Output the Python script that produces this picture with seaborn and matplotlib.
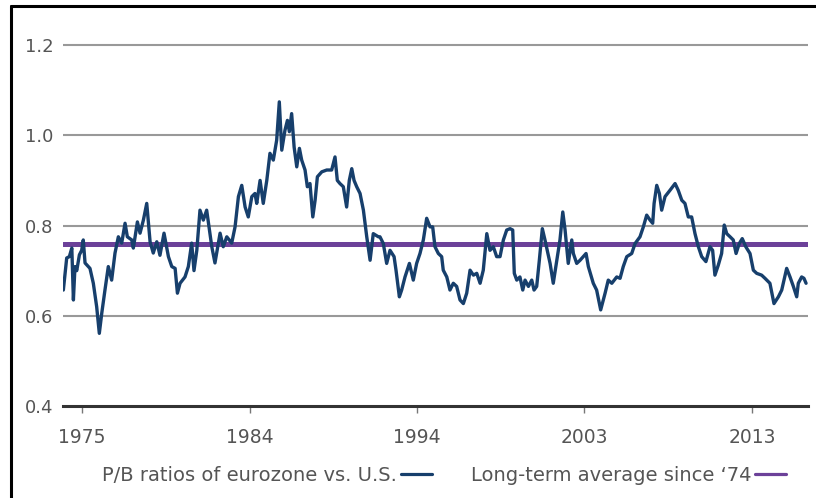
import matplotlib
matplotlib.use("Agg")
import matplotlib.pyplot as plt
from matplotlib.lines import Line2D
import seaborn as sns
import pandas as pd

# Eurozone vs. U.S. price-to-book ratio (decimal year, ratio)
years = [
    1973.94, 1974.13, 1974.28, 1974.42, 1974.51, 1974.60, 1974.70, 1974.85, 1974.98, 1975.07,
    1975.17, 1975.45, 1975.64, 1975.83, 1975.98, 1976.12, 1976.30, 1976.49, 1976.68, 1976.87,
    1977.06, 1977.25, 1977.44, 1977.57, 1977.82, 1977.91, 1978.14, 1978.29, 1978.48, 1978.67,
    1978.86, 1979.04, 1979.24, 1979.42, 1979.65, 1979.90, 1980.09, 1980.28, 1980.41, 1980.56,
    1980.84, 1981.03, 1981.22, 1981.35, 1981.51, 1981.69, 1981.88, 1982.07, 1982.36, 1982.54,
    1982.83, 1983.01, 1983.21, 1983.49, 1983.68, 1983.87, 1984.06, 1984.25, 1984.43, 1984.63,
    1984.81, 1984.91, 1985.10, 1985.28, 1985.48, 1985.66, 1985.85, 1986.04, 1986.19, 1986.33,
    1986.51, 1986.65, 1986.76, 1986.89, 1987.03, 1987.18, 1987.33, 1987.46, 1987.65, 1987.78,
    1987.93, 1988.09, 1988.22, 1988.35, 1988.60, 1988.88, 1989.16, 1989.35, 1989.48, 1989.63,
    1989.82, 1990.01, 1990.16, 1990.30, 1990.43, 1990.58, 1990.77, 1990.96, 1991.15, 1991.34,
    1991.52, 1991.81, 1991.90, 1992.09, 1992.28, 1992.47, 1992.70, 1992.81, 1993.00, 1993.13,
    1993.32, 1993.57, 1993.79, 1993.98, 1994.17, 1994.36, 1994.55, 1994.74, 1994.89, 1995.02,
    1995.21, 1995.40, 1995.49, 1995.69, 1995.87, 1996.06, 1996.25, 1996.44, 1996.63, 1996.82,
    1997.01, 1997.20, 1997.39, 1997.58, 1997.76, 1997.96, 1998.14, 1998.33, 1998.52, 1998.71,
    1998.90, 1999.09, 1999.28, 1999.43, 1999.52, 1999.66, 1999.84, 2000.00, 2000.13, 2000.32,
    2000.51, 2000.64, 2000.79, 2000.94, 2001.11, 2001.26, 2001.55, 2001.73, 2001.93, 2002.11,
    2002.27, 2002.40, 2002.58, 2002.78, 2002.87, 2003.06, 2003.25, 2003.59, 2003.72, 2004.00,
    2004.19, 2004.42, 2004.67, 2004.85, 2005.05, 2005.33, 2005.52, 2005.70, 2005.90, 2006.18,
    2006.37, 2006.65, 2006.84, 2007.03, 2007.22, 2007.37, 2007.45, 2007.60, 2007.75, 2007.88,
    2008.07, 2008.35, 2008.64, 2008.82, 2009.02, 2009.20, 2009.39, 2009.58, 2009.77, 2009.96,
    2010.15, 2010.39, 2010.62, 2010.77, 2010.90, 2011.09, 2011.28, 2011.43, 2011.57, 2011.76,
    2011.94, 2012.10, 2012.28, 2012.45, 2012.65, 2012.89, 2013.08, 2013.27, 2013.55, 2013.74,
    2014.02, 2014.25, 2014.50, 2014.69, 2014.97, 2015.16, 2015.35, 2015.54, 2015.63, 2015.82,
    2015.95, 2016.07,
]
pb_ratio = [
    0.657, 0.728, 0.731, 0.750, 0.635, 0.709, 0.700, 0.735, 0.745, 0.768,
    0.717, 0.705, 0.672, 0.620, 0.561, 0.606, 0.657, 0.709, 0.679, 0.739,
    0.775, 0.761, 0.805, 0.775, 0.768, 0.750, 0.808, 0.783, 0.812, 0.849,
    0.764, 0.739, 0.764, 0.734, 0.783, 0.731, 0.709, 0.705, 0.650, 0.672,
    0.686, 0.709, 0.761, 0.700, 0.745, 0.834, 0.812, 0.834, 0.753, 0.717,
    0.783, 0.753, 0.775, 0.761, 0.797, 0.864, 0.889, 0.841, 0.819, 0.864,
    0.871, 0.849, 0.900, 0.849, 0.900, 0.960, 0.945, 0.989, 1.074, 0.967,
    1.011, 1.033, 1.008, 1.048, 0.974, 0.930, 0.971, 0.945, 0.923, 0.886,
    0.893, 0.819, 0.856, 0.908, 0.919, 0.923, 0.923, 0.952, 0.900, 0.893,
    0.886, 0.841, 0.900, 0.926, 0.900, 0.886, 0.871, 0.834, 0.775, 0.723,
    0.782, 0.775, 0.775, 0.760, 0.716, 0.745, 0.731, 0.701, 0.642, 0.657,
    0.686, 0.716, 0.679, 0.716, 0.738, 0.768, 0.816, 0.797, 0.797, 0.753,
    0.738, 0.731, 0.701, 0.686, 0.657, 0.672, 0.665, 0.635, 0.627, 0.650,
    0.701, 0.690, 0.694, 0.672, 0.701, 0.782, 0.745, 0.753, 0.731, 0.731,
    0.768, 0.790, 0.793, 0.790, 0.694, 0.679, 0.686, 0.657, 0.679, 0.665,
    0.679, 0.657, 0.665, 0.723, 0.793, 0.768, 0.716, 0.672, 0.723, 0.768,
    0.830, 0.790, 0.716, 0.768, 0.738, 0.716, 0.723, 0.738, 0.709, 0.672,
    0.657, 0.613, 0.650, 0.679, 0.672, 0.686, 0.683, 0.709, 0.731, 0.738,
    0.760, 0.775, 0.797, 0.823, 0.812, 0.805, 0.849, 0.889, 0.871, 0.834,
    0.864, 0.878, 0.893, 0.878, 0.856, 0.849, 0.819, 0.819, 0.782, 0.753,
    0.731, 0.720, 0.753, 0.745, 0.690, 0.712, 0.738, 0.801, 0.782, 0.775,
    0.768, 0.738, 0.760, 0.771, 0.753, 0.738, 0.701, 0.694, 0.690, 0.683,
    0.672, 0.627, 0.642, 0.657, 0.705, 0.686, 0.665, 0.642, 0.672, 0.686,
    0.683, 0.672,
]
long_term_avg = 0.76

y_ticks = [0.4, 0.6, 0.8, 1.0, 1.2]
x_tick_pos = [1975, 1984.5, 1994, 2003.5, 2013]
x_tick_labels = ["1975", "1984", "1994", "2003", "2013"]

series_label = "P/B ratios of eurozone vs. U.S."
avg_label = "Long-term average since \u201874"

navy = "#173f6c"
purple = "#6c4199"
text_grey = "#555555"

sns.set_theme(style="white")
plt.rcParams["font.family"] = ["DejaVu Sans"]

df = pd.DataFrame({"year": years, "ratio": pb_ratio})

fig = plt.figure(figsize=(8.16, 4.98), dpi=100)
ax = fig.add_axes([63 / 816, 92 / 498, 745 / 816, 370 / 498])

# horizontal reference grid
for yv in y_ticks[1:]:
    ax.axhline(yv, color="#999999", lw=1.5, zorder=1)

ax.axhline(long_term_avg, color=purple, lw=3.6, zorder=2)
sns.lineplot(data=df, x="year", y="ratio", ax=ax, color=navy, lw=2.4,
             estimator=None, sort=False, zorder=3)

ax.set_xlim(1973.92, 2016.18)
ax.set_ylim(0.4, 1.22)
ax.set_yticks(y_ticks)
ax.set_yticklabels([f"{v:.1f}" for v in y_ticks])
ax.set_xticks(x_tick_pos)
ax.set_xticklabels(x_tick_labels)
ax.set_xlabel("")
ax.set_ylabel("")

for side in ("top", "right", "left"):
    ax.spines[side].set_visible(False)
ax.spines["bottom"].set_color("#333333")
ax.spines["bottom"].set_linewidth(2.2)

ax.tick_params(axis="y", length=0, pad=7, labelsize=13, labelcolor=text_grey)
ax.tick_params(axis="x", bottom=True, direction="out", length=5, width=1,
               color="#777777", pad=11, labelsize=13.5, labelcolor=text_grey)

handles = [Line2D([], [], color=navy, lw=2.3), Line2D([], [], color=purple, lw=2.3)]
fig.legend(handles, [series_label, avg_label], loc="center", ncol=2,
           bbox_to_anchor=(444 / 816, 23 / 498), frameon=False, markerfirst=False,
           fontsize=14, labelcolor=text_grey, handlelength=1.6,
           handletextpad=0.2, columnspacing=2.0)

# thin black frame along the top and left edges
fig.add_artist(Line2D([11 / 816, 11 / 816], [0, 492 / 498], color="black", lw=2.2,
                      transform=fig.transFigure))
fig.add_artist(Line2D([11 / 816, 1], [492 / 498, 492 / 498], color="black", lw=2.2,
                      transform=fig.transFigure))

fig.savefig("out.png", dpi=100)
